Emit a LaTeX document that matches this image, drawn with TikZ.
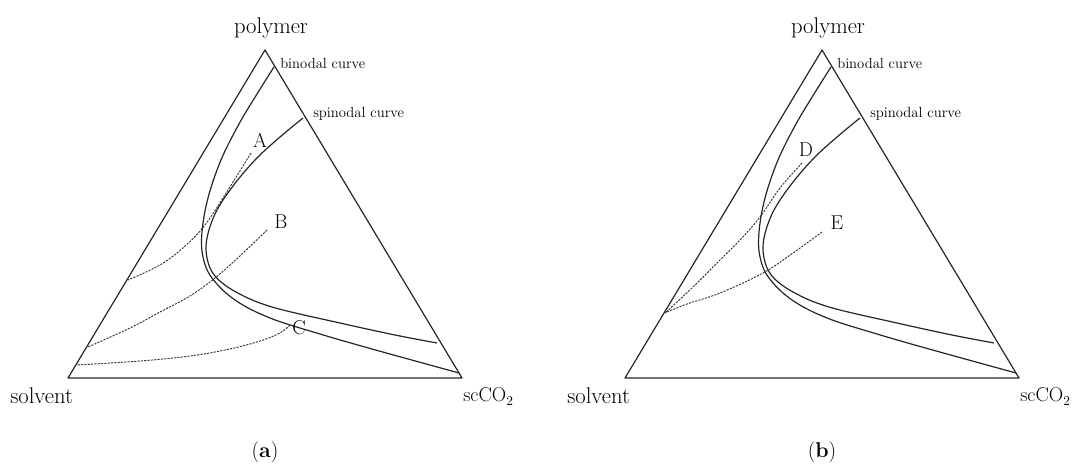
\documentclass[tikz,border=0pt]{standalone}
\usepackage{fontspec}
\begin{document}
\begin{tikzpicture}[x=0.75pt,y=-0.75pt,
  solidline/.style={line width=0.9pt, black!85, line join=round},
  tieline/.style={dash pattern=on 1.6pt off 0.9pt, line width=0.7pt, black!80},
  bigtxt/.style={font=\fontsize{17}{20}\selectfont, inner sep=0pt},
  co2txt/.style={font=\fontsize{15}{18}\selectfont, inner sep=0pt},
  lettxt/.style={font=\fontsize{15}{18}\selectfont, inner sep=0pt},
  smalltxt/.style={font=\fontsize{11}{13}\selectfont, inner sep=0pt, anchor=west},
  captxt/.style={font=\fontsize{16}{19}\selectfont, inner sep=0pt}]
\useasboundingbox (0,0) rectangle (1081,466);

\newcommand{\panelbase}[1]{%
  \coordinate (#1sv) at (68,378);
  \coordinate (#1co) at (462,378);
  \coordinate (#1po) at (265,50);
  \draw[solidline] (#1sv) -- (#1co) -- (#1po) -- cycle;
  \draw[solidline] plot[smooth, tension=0.6] coordinates {(274,67) (257,94) (239,124) (221,160) (208,198) (202,232) (203,257) (212,278) (235,300) (270,318) (320,334) (372,349) (459,373)};
  \draw[solidline] plot[smooth, tension=0.6] coordinates {(303,118) (280,137) (256,159) (233,186) (216,212) (207,238) (207,258) (215,276) (236,292) (272,307) (340,323) (395,335) (437,343)};
  \node[bigtxt, anchor=base] (#1polymer) at (271,34) {polymer};
  \node[smalltxt] (#1bin) at (280,63) {binodal curve};
  \node[smalltxt] (#1spin) at (313,114) {spinodal curve};
  \node[bigtxt, anchor=base west] (#1solv) at (10,403) {solvent};
  \node[co2txt, anchor=base west] (#1co2) at (463,402) {scCO\raisebox{-0.45ex}{\fontsize{10}{12}\selectfont 2}};
}

% panel (a)
\begin{scope}
  \panelbase{a}
  \draw[tieline] plot[smooth, tension=0.6] coordinates {(251,153) (228,190) (205,225) (184,247) (160,265) (128,280)};
  \draw[tieline] plot[smooth, tension=0.6] coordinates {(267,230) (241,255) (215,278) (190,296) (160,312) (130,328) (88,347)};
  \draw[tieline] plot[smooth, tension=0.6] coordinates {(290,325) (280,333) (260,341) (230,349) (190,356) (140,361) (77,365)};
  \node[lettxt] (labA) at (260,140) {A};
  \node[lettxt] (labB) at (281,222) {B};
  \node[lettxt] (labC) at (299,328) {C};
  \node[captxt] (capa) at (265,452) {(\textbf{a})};
\end{scope}

% panel (b)
\begin{scope}[xshift=417.75pt]
  \panelbase{b}
  \draw[tieline] plot[smooth, tension=0.6] coordinates {(245,163) (223,188) (203,217) (183,240) (163,260) (136,287) (108,313)};
  \draw[tieline] plot[smooth, tension=0.6] coordinates {(265,232) (236,253) (206,273) (163,293) (130,304) (108,313)};
  \node[lettxt] (labD) at (249,150) {D};
  \node[lettxt] (labE) at (280,223) {E};
  \node[captxt] (capb) at (265,452) {(\textbf{b})};
\end{scope}
\end{tikzpicture}
\end{document}
